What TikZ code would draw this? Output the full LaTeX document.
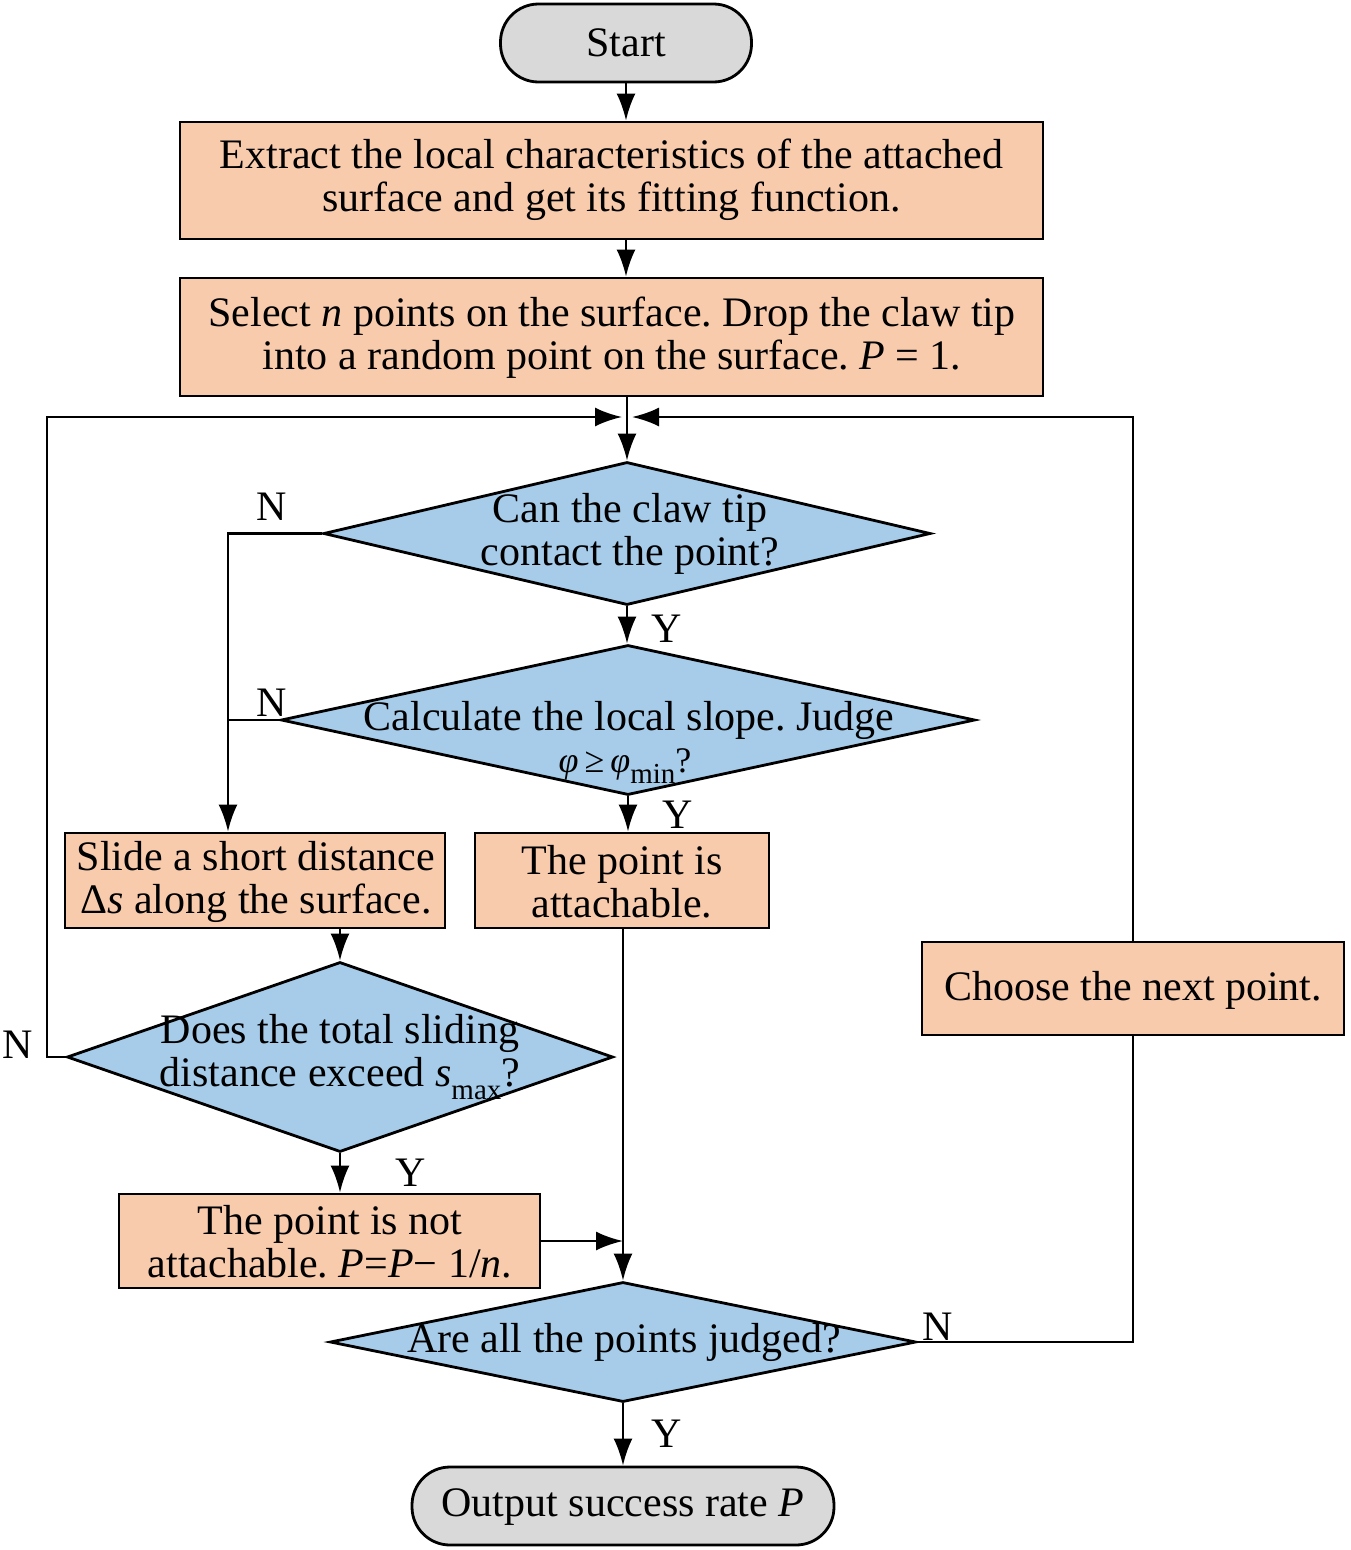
\documentclass[tikz,border=0pt]{standalone}
\usepackage{fontspec}
\setmainfont{Liberation Serif}
\usetikzlibrary{shapes.geometric,arrows.meta}
\definecolor{boxorange}{RGB}{248,203,173}
\definecolor{diablue}{RGB}{166,204,234}
\definecolor{termgray}{RGB}{217,217,217}
\newcommand{\lowsub}[1]{\raisebox{-0.3em}{\fontsize{29}{29}\selectfont #1}}
\frenchspacing
\tikzset{
 every node/.style={font=\fontsize{42}{43}\selectfont, inner sep=0pt},
 procbox/.style={draw, line width=2.8pt, fill=boxorange, rectangle, align=center},
 diabox/.style={draw, line width=2.8pt, fill=diablue, diamond},
 termbox/.style={draw, line width=2.8pt, fill=termgray, rectangle, rounded corners=38pt},
 txt/.style={align=center},
 conn/.style={line width=2.6pt},
 arr/.style={conn, -{Latex[length=27pt,width=19pt]}},
}
\begin{document}
\begin{tikzpicture}[x=1pt,y=-1pt]
\frenchspacing
\useasboundingbox (0,0) rectangle (1350,1550);
% nodes
\node[termbox, minimum width=251pt, minimum height=78pt] (start) at (626,43) {Start};
\node[procbox, minimum width=863pt, minimum height=117pt] (b1) at (611.5,180.5) {};
\node[txt] (b1t) at (611.5,180) {Extract the local characteristics of the attached\\surface and get its fitting function.};
\node[procbox, minimum width=863pt, minimum height=118pt] (b2) at (611.5,337) {};
\node[txt] (b2t) at (612,337.5) {Select \textit{n} points on the surface. Drop the claw tip\\into a random point on the surface. \textit{P} = 1.};
\coordinate (m) at (627,417);
\node[diabox, minimum width=607pt, minimum height=143pt] (d1) at (627,533.5) {};
\node[txt] (d1t) at (630,534) {Can the claw tip\\contact the point?};
\node[diabox, minimum width=694pt, minimum height=150pt] (d2) at (628,720) {};
\node (d2t) at (629,720) {Calculate the local slope. Judge};
\node[font=\fontsize{36}{36}\selectfont] (d2u) at (625,766) {\textit{φ}\,≥\,\textit{φ}\lowsub{min}?};
\node[procbox, minimum width=380pt, minimum height=95pt] (slide) at (255,880.5) {};
\node[txt] (slidet) at (256,882) {Slide a short distance\\Δ\textit{s} along the surface.};
\node[procbox, minimum width=294pt, minimum height=95pt] (att) at (622,880.5) {};
\node[txt] (attt) at (622,882) {The point is\\attachable.};
\node[diabox, minimum width=546pt, minimum height=190pt] (d3) at (340,1057) {};
\node[txt] (d3t) at (340,1057) {Does the total sliding\\distance exceed \textit{s}\lowsub{max}?};
\node[procbox, minimum width=421pt, minimum height=94pt] (na) at (329.5,1241) {};
\node[txt] (nat) at (330,1242) {The point is not\\attachable. \textit{P}=\textit{P}− 1/\textit{n}.};
\node[diabox, minimum width=586pt, minimum height=120pt] (d4) at (623,1342) {};
\node (d4t) at (624,1342) {Are all the points judged?};
\node[procbox, minimum width=422pt, minimum height=93pt] (ch) at (1133,988.5) {};
\node (cht) at (1133,990) {Choose the next point.};
\node[termbox, minimum width=422pt, minimum height=78pt] (out) at (623,1506) {};
\node (outt) at (623,1507) {Output success rate \textit{P}};
% labels
\node (n1) at (272,507) {N};
\node (n2) at (272,703) {N};
\node (n3) at (18,1045) {N};
\node (n4) at (938,1327) {N};
\node (y1) at (667,629) {Y};
\node (y2) at (678,815) {Y};
\node (y3) at (411,1173) {Y};
\node (y4) at (667,1434) {Y};
% connectors
\coordinate (nj) at (228,533.5);
\coordinate (lb) at (47,1057);
\draw[arr] (start.south) -- (start.south |- b1.north);
\draw[arr] (start.south |- b1.south) -- (start.south |- b2.north);
\draw[arr] (m |- b2.south) -- (d1.north);
\draw[arr] (d1.south) -- (d1.south |- d2.north);
\draw[arr] (d1.west) -- (nj) -- (nj |- slide.north);
\draw[conn] (d2.west) -- (d2.west -| nj);
\draw[arr] (d2.south) -- (d2.south |- att.north);
\draw[arr] (d3.north |- slide.south) -- (d3.north);
\draw[arr] (d3.west) -- (lb) -- (lb |- m) -- ([xshift=-5pt]m);
\draw[arr] (d3.south) -- (d3.south |- na.north);
\draw[arr] (na.east) -- (na.east -| d4.north);
\draw[arr] (d4.north |- att.south) -- (d4.north);
\draw[conn] (d4.east) -- (d4.east -| ch.south) -- (ch.south);
\draw[arr] (ch.north) -- (ch.north |- m) -- ([xshift=5pt]m);
\draw[arr] (d4.south) -- (out.north);
\end{tikzpicture}
\end{document}
